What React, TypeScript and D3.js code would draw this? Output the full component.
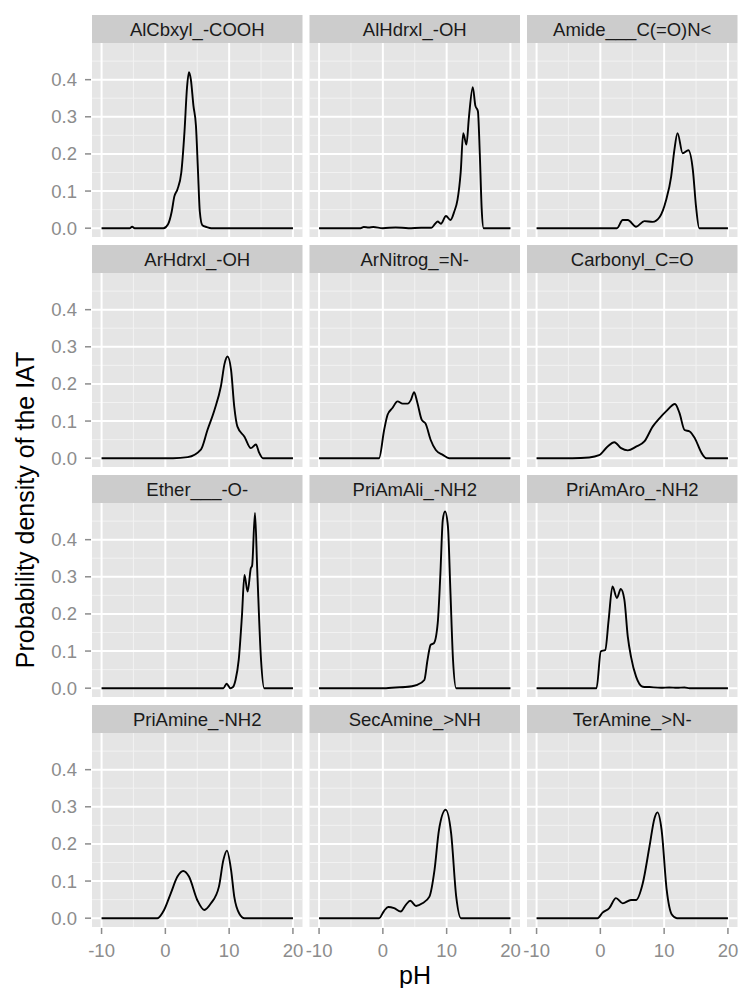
import React from "react";
import * as d3 from "d3";

const categories = [
  "AlCbxyl_-COOH", "AlHdrxl_-OH", "Amide___C(=O)N<",
  "ArHdrxl_-OH", "ArNitrog_=N-", "Carbonyl_C=O",
  "Ether___-O-", "PriAmAli_-NH2", "PriAmAro_-NH2",
  "PriAmine_-NH2", "SecAmine_>NH", "TerAmine_>N-",
];

type P = [number, number];

const alCbxyl: P[] = [[-10,0],[-5.6,0],[-5.2,0.004],[-4.8,0],[-0.3,0],[0.4,0.01],[1.0,0.045],[1.4,0.085],[1.9,0.105],[2.5,0.15],[3.0,0.26],[3.4,0.38],[3.7,0.42],[4.0,0.40],[4.4,0.33],[4.8,0.275],[5.1,0.16],[5.4,0.045],[5.8,0.008],[6.5,0.003],[7.2,0],[20,0]];
const alHdrxl: P[] = [[-10,0],[-3.5,0],[-3,0.003],[-2.2,0.002],[-1.5,0.003],[0,0],[2,0.002],[4,0],[6,0.001],[7.6,0.001],[8.2,0.012],[8.6,0.018],[9.1,0.012],[9.9,0.033],[10.6,0.022],[11.2,0.045],[11.7,0.076],[12.2,0.15],[12.6,0.256],[13.1,0.225],[13.5,0.30],[14.1,0.38],[14.5,0.33],[14.9,0.315],[15.2,0.2],[15.5,0.05],[15.8,0],[20,0]];
const amide: P[] = [[-10,0],[2.6,0],[3.5,0.022],[4.3,0.022],[5.6,0.004],[6.9,0.019],[8.2,0.017],[9.3,0.03],[10.3,0.075],[11.1,0.139],[11.6,0.21],[12.1,0.256],[12.9,0.202],[13.8,0.21],[14.5,0.157],[15.0,0.058],[15.5,0],[20,0]];
const arHdrxl: P[] = [[-10,0],[1.2,0],[3.5,0.003],[5.6,0.024],[6.6,0.076],[7.7,0.13],[8.7,0.193],[9.3,0.256],[9.75,0.274],[10.3,0.238],[10.8,0.139],[11.3,0.085],[12.4,0.058],[13.4,0.027],[14.2,0.037],[14.7,0.015],[15.3,0],[20,0]];
const arNitrog: P[] = [[-10,0],[-0.6,0],[0.2,0.076],[0.74,0.117],[1.5,0.135],[2.3,0.153],[3.1,0.147],[3.9,0.147],[4.4,0.157],[4.9,0.178],[5.4,0.15],[6.1,0.103],[6.7,0.093],[7.5,0.049],[8.3,0.022],[9.4,0.009],[10.4,0],[20,0]];
const carbonyl: P[] = [[-10,0],[-4.4,0],[-1.75,0.002],[-0.2,0.008],[1.1,0.031],[2.2,0.043],[3.25,0.027],[4.3,0.021],[5.6,0.031],[6.9,0.045],[8.2,0.085],[9.3,0.108],[10.3,0.126],[11.7,0.146],[12.4,0.122],[13.2,0.076],[14.0,0.072],[14.8,0.054],[15.9,0.013],[16.6,0],[20,0]];
const ether: P[] = [[-10,0],[9.1,0],[9.6,0.012],[10.2,0],[10.6,0.003],[11.0,0.022],[11.5,0.076],[12.0,0.193],[12.4,0.305],[12.9,0.26],[13.4,0.323],[13.6,0.33],[14.05,0.472],[14.4,0.32],[15.0,0.076],[15.5,0],[20,0]];
const priAmAli: P[] = [[-10,0],[0.5,0],[2,0.002],[3.5,0.003],[5.4,0.009],[6.5,0.022],[7.0,0.076],[7.5,0.117],[8.0,0.121],[8.6,0.175],[9.0,0.3],[9.4,0.454],[9.75,0.476],[10.2,0.436],[10.6,0.256],[11.0,0.076],[11.5,0],[20,0]];
const priAmAro: P[] = [[-10,0],[-0.6,0],[0.07,0.099],[0.77,0.103],[1.3,0.184],[1.9,0.274],[2.6,0.243],[3.2,0.267],[3.75,0.24],[4.3,0.139],[4.8,0.085],[5.6,0.031],[6.65,0.004],[7.7,0.003],[9.5,0.001],[10.8,0.002],[12,0.001],[13.2,0.002],[14,0],[20,0]];
const priAmine: P[] = [[-10,0],[-1.25,0],[-0.2,0.022],[0.85,0.067],[1.9,0.112],[2.8,0.127],[3.7,0.112],[5.0,0.049],[6.1,0.022],[7.15,0.04],[8.4,0.085],[9.1,0.157],[9.65,0.182],[10.3,0.13],[10.8,0.058],[11.6,0.012],[12.4,0],[20,0]];
const secAmine: P[] = [[-10,0],[-0.6,0],[0.2,0.02],[0.85,0.03],[1.76,0.027],[2.8,0.018],[3.6,0.036],[4.3,0.047],[5.2,0.033],[6.2,0.04],[7.3,0.058],[8.1,0.13],[8.8,0.238],[9.85,0.292],[10.7,0.229],[11.5,0.058],[12.25,0],[20,0]];
const terAmine: P[] = [[-10,0],[-0.44,0],[0.35,0.015],[1.4,0.027],[2.45,0.054],[3.5,0.04],[4.8,0.049],[5.6,0.049],[6.65,0.094],[7.7,0.193],[8.5,0.27],[8.95,0.285],[9.6,0.238],[10.4,0.076],[11.2,0.01],[12.0,0],[20,0]];

const series: P[][] = [alCbxyl, alHdrxl, amide, arHdrxl, arNitrog, carbonyl, ether, priAmAli, priAmAro, priAmine, secAmine, terAmine];

const xBreaks = [-10, 0, 10, 20];
const xMinor = [-5, 5, 15];
const yBreaks = [0, 0.1, 0.2, 0.3, 0.4];
const yMinor = [0.05, 0.15, 0.25, 0.35, 0.45];

const W = 742, H = 988;
const lefts = [92, 309.5, 527];
const panelW = 210.5;
const stripTop0 = 15, rowStep = 230, stripH = 28, plotH = 194;
const font = "'Liberation Sans', Arial, Helvetica, sans-serif";

export default function App() {
  const line = d3.line<P>().curve(d3.curveMonotoneX);
  return (
    <svg width={W} height={H} style={{ position: "absolute", left: 0, top: 0, background: "#fff" }} fontFamily={font}>
      {categories.map((cat, i) => {
        const col = i % 3, row = Math.floor(i / 3);
        const x0 = lefts[col];
        const sTop = stripTop0 + row * rowStep;
        const pTop = sTop + stripH;
        const pBot = pTop + plotH;
        const x = d3.scaleLinear().domain([-11.5, 21.5]).range([x0, x0 + panelW]);
        const y = d3.scaleLinear().domain([-0.02375, 0.49875]).range([pBot, pTop]);
        line.x(d => x(d[0])).y(d => y(d[1]));
        return (
          <g key={cat}>
            <rect x={x0} y={sTop} width={panelW} height={stripH} fill="#CCCCCC" />
            <text x={x0 + panelW / 2} y={sTop + stripH / 2 + 6.5} textAnchor="middle" fontSize={18.5} fill="#1A1A1A">{cat}</text>
            <rect x={x0} y={pTop} width={panelW} height={plotH} fill="#E5E5E5" />
            {xMinor.map(v => <line key={"xm" + v} x1={x(v)} x2={x(v)} y1={pTop} y2={pBot} stroke="#F2F2F2" strokeWidth={1} />)}
            {yMinor.map(v => <line key={"ym" + v} x1={x0} x2={x0 + panelW} y1={y(v)} y2={y(v)} stroke="#F2F2F2" strokeWidth={1} />)}
            {xBreaks.map(v => <line key={"xb" + v} x1={x(v)} x2={x(v)} y1={pTop} y2={pBot} stroke="#FFFFFF" strokeWidth={2} />)}
            {yBreaks.map(v => <line key={"yb" + v} x1={x0} x2={x0 + panelW} y1={y(v)} y2={y(v)} stroke="#FFFFFF" strokeWidth={2} />)}
            <path d={line(series[i]) || ""} fill="none" stroke="#000" strokeWidth={1.9} strokeLinejoin="round" />
            {col === 0 && yBreaks.map(v => (
              <g key={"yt" + v}>
                <line x1={x0 - 7} x2={x0 - 1} y1={y(v)} y2={y(v)} stroke="#8C8C8C" strokeWidth={1.5} />
                <text x={x0 - 15} y={y(v) + 6.5} textAnchor="end" fontSize={18.5} fill="#8C8C8C">{d3.format(".1f")(v)}</text>
              </g>
            ))}
            {row === 3 && xBreaks.map(v => (
              <g key={"xt" + v}>
                <line x1={x(v)} x2={x(v)} y1={pBot + 1} y2={pBot + 7} stroke="#8C8C8C" strokeWidth={1.5} />
                <text x={x(v)} y={pBot + 30} textAnchor="middle" fontSize={18.5} fill="#8C8C8C">{String(v)}</text>
              </g>
            ))}
          </g>
        );
      })}
      <text x={415} y={984} textAnchor="middle" fontSize={25} fill="#000">pH</text>
      <text transform="translate(34,510) rotate(-90)" textAnchor="middle" fontSize={25} fill="#000">Probability density of the IAT</text>
    </svg>
  );
}
